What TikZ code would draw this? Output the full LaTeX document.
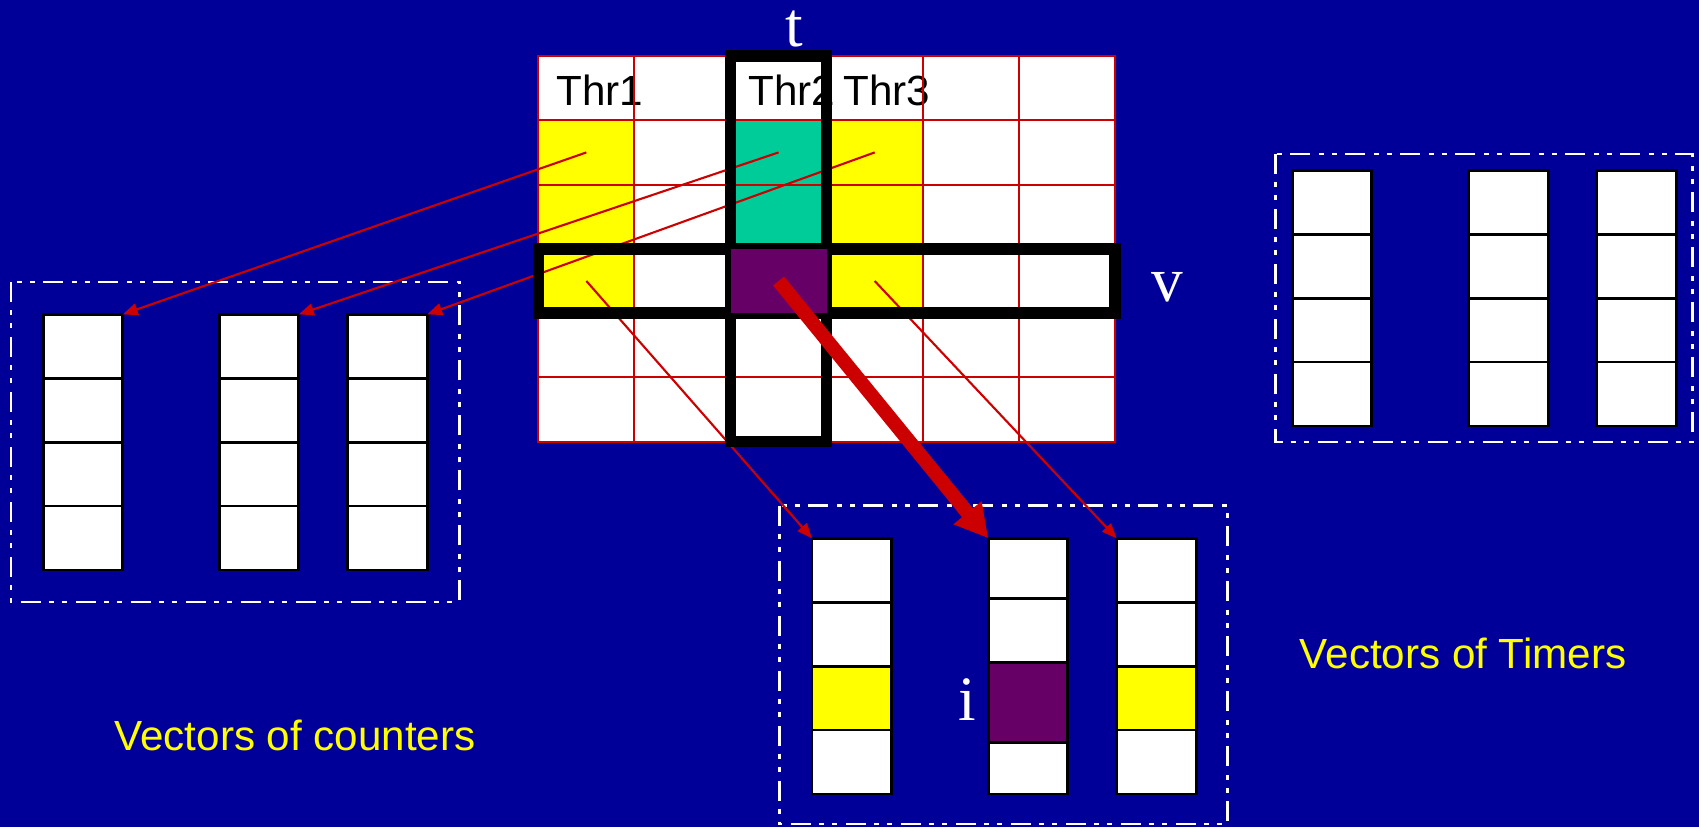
\documentclass[tikz,border=0pt]{standalone}
\usepackage{fontspec}
\setmainfont{Liberation Serif}
\newfontfamily\arialfont{Liberation Sans}
\usepackage{tikz}
\usetikzlibrary{arrows.meta,positioning,calc}
\definecolor{slide}{HTML}{000099}
\definecolor{wire}{HTML}{CC0000}
\definecolor{hit}{HTML}{FFFF00}
\definecolor{busy}{HTML}{00CC99}
\definecolor{sel}{HTML}{660066}

\begin{document}
\begin{tikzpicture}[x=0.1mm,y=-0.1mm,>=Latex,
  cell/.style={anchor=north west,minimum width=9.61mm,minimum height=6.428mm,inner sep=0,outer sep=0,fill=white},
  slot/.style={anchor=north west,draw=black,line width=0.8pt,minimum width=7.95mm,minimum height=6.39mm,inner sep=0,outer sep=0},
  grp/.style={draw=white,line width=0.8pt,dash pattern=on 2mm off 0.8mm on 0.5mm off 0.8mm on 0.5mm off 0.9mm},
  feed/.style={-{Triangle[length=1.5mm,width=1.2mm]},wire,line width=0.6pt},
  bigfeed/.style={-{Triangle[length=3.3mm,width=3.4mm]},wire,line width=4pt},
  selbox/.style={draw=black,line width=1.15mm},
  thr/.style={font=\arialfont\fontsize{12}{14}\selectfont,anchor=base west,inner sep=0},
  idx/.style={font=\fontsize{18}{20}\selectfont,text=white,anchor=base,inner sep=0},
  grouptitle/.style={font=\arialfont\fontsize{12}{14}\selectfont,text=hit,anchor=base,inner sep=0}]
  \useasboundingbox (0,0) rectangle (1699,827);
  \fill[slide] (0,0) rectangle (1699,827);

  % thread / variable table
  \foreach \r in {1,...,6}
    \foreach \c in {1,...,6}
      \node[cell] (g-\r-\c) at ({538.3+(\c-1)*96.1},{56+(\r-1)*64.28}) {};
  \foreach \r/\c/\fc in {2/1/hit,3/1/hit,4/1/hit,2/3/busy,3/3/busy,2/4/hit,3/4/hit,4/4/hit}
    \fill[\fc] (g-\r-\c.north west) rectangle (g-\r-\c.south east);
  \node[thr] (thr1) at (556,105) {Thr1};
  \node[thr] (thr2) at (748,105) {Thr2};
  \node[thr] (thr3) at (843,105) {Thr3};
  \foreach \r in {1,...,6}
    \foreach \c in {1,...,6}
      \draw[wire,line width=0.6pt] (g-\r-\c.north west) rectangle (g-\r-\c.south east);

  % counter, timer and result vectors
  \foreach \v/\x in {1/43.3,2/219.3,3/347.7}
    \foreach \k in {1,...,4}
      \node[slot,fill=white] (cnt\v-\k) at (\x,{314.3+(\k-1)*63.9}) {};
  \foreach \v/\x in {1/1292.3,2/1468.7,3/1596.7}
    \foreach \k in {1,...,4}
      \node[slot,fill=white] (tmr\v-\k) at (\x,{170.3+(\k-1)*63.9}) {};
  \foreach \v/\x in {1/812,3/1116.7}
    \foreach \k/\fc in {1/white,2/white,3/hit,4/white}
      \node[slot,fill=\fc] (bot\v-\k) at (\x,{538.3+(\k-1)*63.9}) {};
  \foreach \k/\y/\h/\fc in {1/538.3/6.04/white,2/598.7/6.4/white,3/662.7/7.96/sel,4/742.3/5.17/white}
    \node[slot,fill=\fc,minimum height=\h mm] (bot2-\k) at (988.3,\y) {};

  \draw[grp] (11,282) rectangle (459.3,602);
  \draw[grp] (1275.7,154) rectangle (1692.3,442);
  \draw[grp] (779.3,505.7) rectangle (1227.7,824);

  \draw[feed] (g-2-1.center) -- (cnt1-1.north east);
  \draw[feed] (g-2-3.center) -- (cnt2-1.north east);
  \draw[feed] (g-2-4.center) -- (cnt3-1.north east);
  \draw[feed] (g-4-1.center) -- (bot1-1.north west);
  \draw[feed] (g-4-4.center) -- (bot3-1.north west);

  \draw[selbox] (g-1-3.north west) rectangle (g-6-3.south east);
  \draw[selbox] (g-4-1.north west) rectangle (g-4-6.south east);
  \fill[sel] (g-4-3.north west) rectangle (g-4-3.south east);
  \draw[bigfeed] (g-4-3.center) -- (bot2-1.north west);

  \node[idx] (tlab) at (794,46) {t};
  \node[idx] (vlab) at (1167,301) {v};
  \node[idx] (ilab) at (967,720) {i};
  \node[grouptitle] (cntlab) at (295,750) {Vectors of counters};
  \node[grouptitle] (tmrlab) at (1463,668) {Vectors of Timers};
\end{tikzpicture}
\end{document}
